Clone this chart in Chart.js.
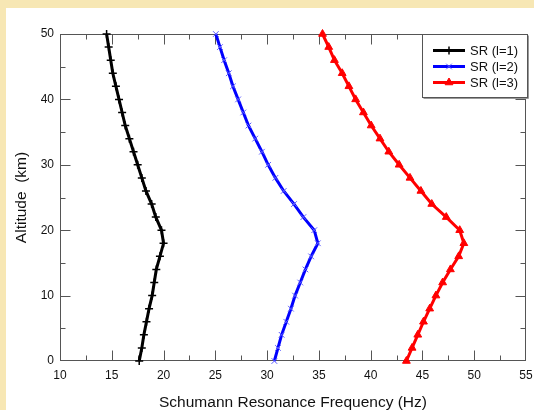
<!DOCTYPE html>
<html><head><meta charset="utf-8">
<script src="https://cdn.jsdelivr.net/npm/chart.js@4.4.0/dist/chart.umd.min.js"></script>
<style>
html,body{margin:0;padding:0;background:#F7E7B4;width:534px;height:410px;overflow:hidden}
#panel{position:absolute;left:6px;top:8px;width:528px;height:402px;background:#fff}
canvas{display:block}
</style></head><body>
<div id="panel"><canvas id="c" width="528" height="402"></canvas></div>
<script>
const altitudes = [0,2,4,6,8,10,12,14,16,18,20,22,24,26,28,30,32,34,36,38,40,42,44,46,48,50];
const srL1 = [17.65,17.9,18.1,18.35,18.6,18.9,19.1,19.3,19.65,20.0,19.8,19.25,18.85,18.3,17.9,17.5,17.1,16.7,16.3,16.0,15.7,15.4,15.1,14.9,14.7,14.5];
const srL2 = [30.7,31.05,31.4,31.85,32.3,32.7,33.2,33.7,34.25,34.9,34.55,33.5,32.6,31.6,30.8,30.1,29.5,28.85,28.2,27.7,27.2,26.7,26.3,25.85,25.45,25.05];
const srL3 = [43.45,44.0,44.55,45.1,45.7,46.3,46.95,47.7,48.5,49.0,48.6,47.3,45.9,44.85,43.8,42.75,41.75,40.9,40.05,39.3,38.55,37.9,37.25,36.5,35.95,35.35];
const seriesLabels = ['SR (l=1)','SR (l=2)','SR (l=3)'];
const xRange = [10,55];
const yRange = [0,50];
const xTitle = 'Schumann Resonance Frequency (Hz)';
const yTitle = 'Altitude  (km)';

const FONT = '"Liberation Sans", Arial, sans-serif';
const toPts = arr => arr.map((f,i)=>({x:f, y:altitudes[i]}));

const framePlugin = {
  id:'frame',
  beforeDatasetsDraw(chart){
    const {ctx, chartArea:{left,right,top,bottom}, scales:{x,y}} = chart;
    ctx.save();
    ctx.strokeStyle = '#555';
    ctx.lineWidth = 1;
    const L = Math.round(left)+0.5, R = Math.round(right)-0.5, T = Math.round(top)+0.5, B = Math.round(bottom)-0.5;
    ctx.beginPath();
    for (let v = xRange[0]+2.5; v < xRange[1]-0.01; v += 2.5) {
      const px = Math.round(x.getPixelForValue(v))+0.5;
      const len = (Math.abs(v/5 - Math.round(v/5)) < 1e-6) ? 10 : 5;
      ctx.moveTo(px, B); ctx.lineTo(px, B-len);
      ctx.moveTo(px, T); ctx.lineTo(px, T+len);
    }
    for (let v = yRange[0]+5; v < yRange[1]-0.01; v += 5) {
      const py = Math.round(y.getPixelForValue(v))+0.5;
      const len = (v % 10 === 0) ? 10 : 5;
      ctx.moveTo(L, py); ctx.lineTo(L+len, py);
      ctx.moveTo(R, py); ctx.lineTo(R-len, py);
    }
    ctx.stroke();
    ctx.strokeRect(L, T, R-L, B-T);
    ctx.restore();
  }
};

const legendPlugin = {
  id:'boxLegend',
  afterDatasetsDraw(chart){
    const ctx = chart.ctx;
    const bx = 416.5, by = 26.5, bw = 105, bh = 63;
    ctx.save();
    ctx.fillStyle = '#fff';
    ctx.fillRect(bx, by, bw, bh);
    ctx.strokeStyle = '#999';
    ctx.lineWidth = 1;
    ctx.beginPath();
    ctx.moveTo(bx+1, by+bh+1); ctx.lineTo(bx+bw+1, by+bh+1); ctx.lineTo(bx+bw+1, by+1);
    ctx.stroke();
    ctx.strokeStyle = '#555';
    ctx.strokeRect(bx, by, bw, bh);
    const rows = [42.5, 58.5, 74.5];
    chart.data.datasets.forEach((ds, i) => {
      const yy = rows[i];
      ctx.strokeStyle = ds.borderColor;
      ctx.lineWidth = 3;
      ctx.beginPath(); ctx.moveTo(427, yy); ctx.lineTo(459, yy); ctx.stroke();
      ctx.fillStyle = ds.pointBackgroundColor; ctx.strokeStyle = ds.pointBorderColor; ctx.lineWidth = ds.pointBorderWidth;
      Chart.helpers.drawPoint(ctx, {pointStyle: ds.pointStyle, radius: ds.pointRadius, borderWidth: ds.pointBorderWidth, rotation:0}, 443, yy);
      ctx.fillStyle = '#111';
      ctx.font = '13px ' + FONT;
      ctx.textBaseline = 'middle';
      ctx.textAlign = 'left';
      ctx.fillText(ds.label, 464, yy+0.5);
    });
    ctx.restore();
  }
};

new Chart(document.getElementById('c'), {
  type: 'line',
  data: {
    datasets: [
      {label: seriesLabels[0], data: toPts(srL1), borderColor:'#000', borderWidth:3, pointStyle:'cross', pointRadius:4, pointBorderWidth:1.5, pointBorderColor:'#000', pointBackgroundColor:'#000', tension:0, clip:false},
      {label: seriesLabels[1], data: toPts(srL2), borderColor:'#0000ff', borderWidth:3, pointStyle:'crossRot', pointRadius:4, pointBorderWidth:1, pointBorderColor:'#5a5aff', pointBackgroundColor:'#5a5aff', tension:0, clip:false},
      {label: seriesLabels[2], data: toPts(srL3), borderColor:'#ff0000', borderWidth:3, pointStyle:'triangle', pointRadius:4.5, pointBorderWidth:1, pointBorderColor:'#ff0000', pointBackgroundColor:'#ff0000', tension:0, clip:false}
    ]
  },
  options: {
    responsive:false,
    animation:false,
    devicePixelRatio:1,
    layout:{padding:{top:26, right:8, left:0, bottom:0}},
    plugins:{legend:{display:false}, tooltip:{enabled:false}},
    scales:{
      x:{type:'linear', position:'bottom', min:xRange[0], max:xRange[1],
        ticks:{stepSize:5, color:'#111', padding:7, font:{family:FONT, size:12}, maxRotation:0, autoSkip:false},
        grid:{display:false, drawTicks:false}, border:{display:false},
        title:{display:true, text:xTitle, color:'#111', font:{family:FONT, size:15.5}, padding:{top:0,bottom:-2}},
        afterFit(s){ s.height = 49; s.paddingLeft = 0; s.paddingRight = 0; }
      },
      y:{type:'linear', position:'left', min:yRange[0], max:yRange[1],
        ticks:{stepSize:10, color:'#111', padding:6, font:{family:FONT, size:12}},
        grid:{display:false, drawTicks:false}, border:{display:false},
        title:{display:true, text:yTitle, color:'#111', font:{family:FONT, size:15.5}, padding:{top:6,bottom:0}},
        afterFit(s){ s.width = 54; s.paddingTop = 0; s.paddingBottom = 0; }
      }
    }
  },
  plugins:[framePlugin, legendPlugin]
});
</script>
</body></html>
